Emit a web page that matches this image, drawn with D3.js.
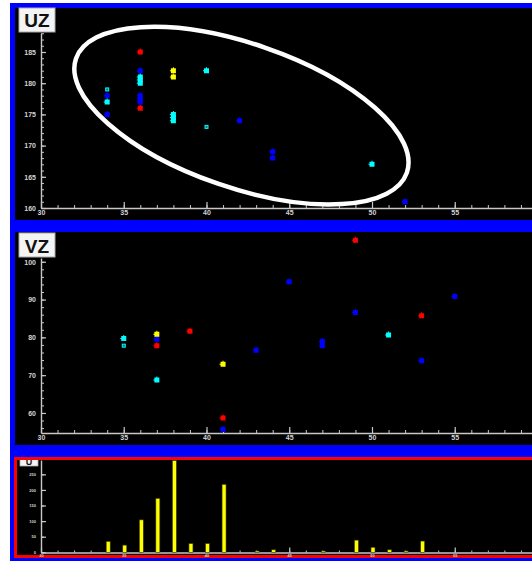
<!DOCTYPE html>
<html><head><meta charset="utf-8">
<script src="https://cdn.jsdelivr.net/npm/d3@7/dist/d3.min.js"></script>
<style>
html,body{margin:0;padding:0;background:#fff;overflow:hidden;}
svg{display:block;}
.tk text{font-family:"Liberation Sans",Arial,sans-serif;font-weight:bold;fill:#d4d4d4;}
</style></head>
<body>
<svg id="c" width="532" height="561"></svg>
<script>
// ---------------- DATA ----------------
const xTicksMajor = [30, 35, 40, 45, 50, 55];
const uzYTicks = [160, 165, 170, 175, 180, 185];
const vzYTicks = [60, 70, 80, 90, 100];
const uYTicks = [0, 50, 100, 150, 200, 250];

// UZ panel points [x, y]
const uzBlue = [[34,178],[34,175],[36,182],[36,178],[36,177.5],[36,177],[42,174],[44,169],[44,168],[52,161]];
const uzRed = [[36,185],[36,176]];
const uzCyan = [[34,177],[36,181],[36,180.5],[36,180],[38,175],[38,174.5],[38,174],[40,182],[50,167]];
const uzCyanSmall = [[34,179],[40,173]];
const uzYellow = [[38,182],[38,181]];

// VZ panel points [x, y]
const vzBlue = [[37,79.5],[41,55.6],[43,76.6],[45,94.7],[47,78.9],[47,77.8],[49,86.6],[53,73.8],[55,90.8]];
const vzRed = [[37,77.8],[39,81.6],[41,58.7],[49,105.7],[53,85.7]];
const vzCyan = [[35,79.7],[37,68.7],[51,80.6]];
const vzCyanSmall = [[35,77.8]];
const vzYellow = [[37,80.8],[41,72.9]];

// U histogram
const uBins = [34,35,36,37,38,39,40,41,43,44,47,49,50,51,52,53];
const uCounts = [35,23,104,173,294,28,28,218,4,8,4,39,16,8,4,36];

// ---------------- DRAW ----------------
const svg = d3.select("#c");
const BLUE = "#0000ff", RED = "#ff0000", CYAN = "#00ffff", YELLOW = "#ffff00";
const AX = "#c8c8c8";

svg.append("rect").attr("x",10).attr("y",3).attr("width",530).attr("height",560).attr("fill",BLUE);
svg.append("rect").attr("x",15).attr("y",8).attr("width",520).attr("height",212).attr("fill","#000");
svg.append("rect").attr("x",15).attr("y",232).attr("width",520).attr("height",213).attr("fill","#000");
svg.append("rect").attr("x",14).attr("y",457).attr("width",530).attr("height",101).attr("fill",RED);
svg.append("rect").attr("x",17).attr("y",460).attr("width",530).attr("height",95).attr("fill","#000");

const x = d3.scaleLinear().domain([30,60]).range([41, 41 + 30*16.55]);
const xMinor = d3.range(30, 61, 1);

function xAxis(g, y, fs, majorLen, minorLen){
  g.append("g").attr("class","tk").attr("transform",`translate(0,${y})`)
    .call(d3.axisBottom(x).tickValues(xMinor).tickFormat("").tickSizeInner(-minorLen).tickSizeOuter(0))
    .call(s=>{s.select(".domain").remove(); s.selectAll("line").attr("stroke",AX).attr("stroke-width",1);});
  const a = g.append("g").attr("class","tk").attr("transform",`translate(0,${y})`)
    .call(d3.axisBottom(x).tickValues(xTicksMajor).tickFormat(d3.format("d")).tickSizeInner(-majorLen).tickSizeOuter(0).tickPadding(fs*0.35));
  a.select(".domain").attr("stroke",AX).attr("stroke-width",1.4);
  a.selectAll("line").attr("stroke",AX).attr("stroke-width",1.2);
  a.selectAll("text").attr("font-size",fs).attr("fill","#d4d4d4");
}
function yAxis(g, y, ticks, minor, fs){
  g.append("g").attr("class","tk").attr("transform","translate(41,0)")
    .call(d3.axisLeft(y).tickValues(minor).tickFormat("").tickSizeInner(-3).tickSizeOuter(0))
    .call(s=>{s.select(".domain").remove(); s.selectAll("line").attr("stroke",AX).attr("stroke-width",1);});
  const a = g.append("g").attr("class","tk").attr("transform","translate(41,0)")
    .call(d3.axisLeft(y).tickValues(ticks).tickFormat(d3.format("d")).tickSizeInner(-5).tickSizeOuter(0).tickPadding(5));
  a.select(".domain").attr("stroke",AX).attr("stroke-width",1.4);
  a.selectAll("line").attr("stroke",AX).attr("stroke-width",1.2);
  a.selectAll("text").attr("font-size",fs).attr("fill","#d4d4d4");
}

const markerPath = "M-2.5,-2.5h5v5h-5z M-3.5,-0.5h1v1h-1z M-0.5,-3.5h1v1h-1z";
function points(g, y, data, color){
  g.selectAll(null).data(data).enter().append("path")
    .attr("d", markerPath)
    .attr("transform", d=>`translate(${x(d[0])},${y(d[1])})`)
    .attr("fill", color);
}
function smallPoints(g, y, data, color){
  g.selectAll(null).data(data).enter().append("rect")
    .attr("x", d=>x(d[0])-1.5).attr("y", d=>y(d[1])-1.5)
    .attr("width",3).attr("height",3)
    .attr("fill","#007070").attr("stroke",color).attr("stroke-width",1);
}
function titleBox(g, bx, by, w, h, label, fs, base){
  g.append("rect").attr("x",bx).attr("y",by).attr("width",w).attr("height",h)
    .attr("fill","#f4f4f4").attr("stroke","#aaa").attr("stroke-width",1);
  g.append("text").attr("x",bx+w/2).attr("y",base).attr("text-anchor","middle")
    .attr("font-family","Liberation Sans, Arial, sans-serif").attr("font-weight","bold")
    .attr("font-size",fs).attr("fill","#111").text(label);
}

// ---- Panel 1: UZ ----
const p1 = svg.append("g");
const yUZ = d3.scaleLinear().domain([160,188]).range([208, 208-28*6.24]);
titleBox(p1, 19, 8, 36, 24, "UZ", 19, 27);
yAxis(p1, yUZ, uzYTicks, d3.range(160,189,1), 7);
xAxis(p1, 208, 7, 6, 3);
points(p1, yUZ, uzBlue, BLUE);
points(p1, yUZ, uzCyan, CYAN);
smallPoints(p1, yUZ, uzCyanSmall, CYAN);
points(p1, yUZ, uzRed, RED);
points(p1, yUZ, uzYellow, YELLOW);
// highlight ellipse annotation, centred in data space
const ecx = x(42.11), ecy = yUZ(174.8);
p1.append("ellipse").attr("cx",0).attr("cy",0).attr("rx",175).attr("ry",72)
  .attr("transform",`translate(${ecx},${ecy}) rotate(19)`)
  .attr("fill","none").attr("stroke","#fff").attr("stroke-width",4.5);

// ---- Panel 2: VZ ----
const p2 = svg.append("g");
const yVZ = d3.scaleLinear().domain([54.7,101]).range([433, 433-46.3*3.78]);
titleBox(p2, 19, 233, 36, 24, "VZ", 19, 252.5);
yAxis(p2, yVZ, vzYTicks, d3.range(56,101,2), 7);
xAxis(p2, 433, 7, 6, 3);
points(p2, yVZ, vzBlue, BLUE);
points(p2, yVZ, vzCyan, CYAN);
smallPoints(p2, yVZ, vzCyanSmall, CYAN);
points(p2, yVZ, vzRed, RED);
points(p2, yVZ, vzYellow, YELLOW);

// ---- Panel 3: U histogram ----
const p3 = svg.append("g");
const yU = d3.scaleLinear().domain([0,296]).range([552.3, 460]);
const clip = svg.append("clipPath").attr("id","cp3").append("rect").attr("x",17).attr("y",460).attr("width",520).attr("height",95);
const p3c = p3.append("g").attr("clip-path","url(#cp3)");
p3c.append("rect").attr("x",20).attr("y",455).attr("width",18).attr("height",11).attr("fill","#f4f4f4").attr("stroke","#aaa").attr("stroke-width",0.8);
p3c.append("text").attr("x",29).attr("y",465).attr("text-anchor","middle").attr("font-family","Liberation Sans, Arial, sans-serif")
  .attr("font-weight","bold").attr("font-size",9).attr("fill","#111").text("U");
yAxis(p3, yU, uYTicks, uYTicks, 4);
p3.selectAll(".tk text").attr("font-size",4);
xAxis(p3, 552.5, 4, 5, 2);
p3.selectAll("rect.bar").data(uBins.map((b,i)=>[b,uCounts[i]])).enter().append("rect")
  .attr("class","bar")
  .attr("x", d=>x(d[0])+1-2).attr("width",4)
  .attr("y", d=>yU(d[1])).attr("height", d=>yU(0)-yU(d[1]))
  .attr("fill",YELLOW).attr("stroke","#3a3a00").attr("stroke-width",0.6);
</script>
</body></html>
